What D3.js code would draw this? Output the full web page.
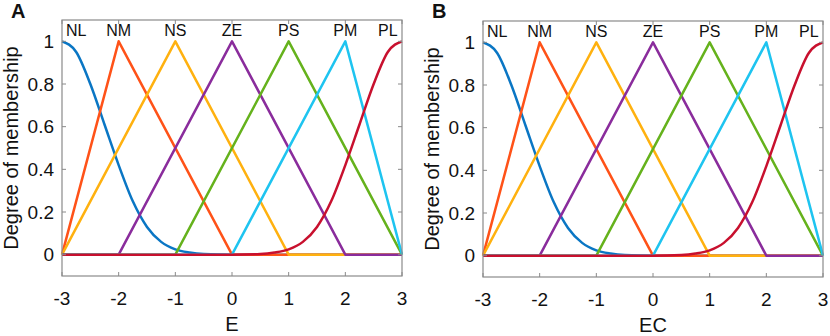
<!DOCTYPE html>
<html>
<head>
<meta charset="utf-8">
<script src="https://cdn.jsdelivr.net/npm/d3@7"></script>
<style>
  body { margin: 0; background: #fff; }
  svg text { font-family: "Liberation Sans", Arial, sans-serif; fill: #111; }
</style>
</head>
<body>
<div id="chart"></div>
<script>
// membership function names and where their names sit on the x axis
var mfNames = ["NL", "NM", "NS", "ZE", "PS", "PM", "PL"];
var mfLabelX = [-2.75, -2, -1, 0, 1, 2, 2.75];

var xTicks = [-3, -2, -1, 0, 1, 2, 3];
var yTicks = [0, 0.2, 0.4, 0.6, 0.8, 1];

// NL (z-shaped)
var nlX = [-3, -2.75, -2.5, -2.25, -2, -1.75, -1.5, -1.25, -1, -0.75, -0.5, 0, 3];
var nlY = [1, 0.95, 0.8, 0.61, 0.42, 0.25, 0.13, 0.06, 0.025, 0.01, 0.003, 0, 0];
// triangles
var nmX = [-3, -2, 0, 3];   var nmY = [0, 1, 0, 0];
var nsX = [-3, -1, 1, 3];   var nsY = [0, 1, 0, 0];
var zeX = [-3, -2, 0, 2, 3]; var zeY = [0, 0, 1, 0, 0];
var psX = [-3, -1, 1, 3];   var psY = [0, 0, 1, 0];
var pmX = [-3, 0, 2, 3];    var pmY = [0, 0, 1, 0];
// PL (s-shaped)
var plX = [-3, 0, 0.5, 0.75, 1, 1.25, 1.5, 1.75, 2, 2.25, 2.5, 2.75, 3];
var plY = [0, 0, 0.003, 0.01, 0.025, 0.06, 0.13, 0.25, 0.42, 0.61, 0.8, 0.95, 1];

var series = [
  {x: nlX, y: nlY, color: "#0a76c4", smooth: true},
  {x: nmX, y: nmY, color: "#ff5218"},
  {x: nsX, y: nsY, color: "#ffb10f"},
  {x: zeX, y: zeY, color: "#8a2c9c"},
  {x: psX, y: psY, color: "#65b21c"},
  {x: pmX, y: pmY, color: "#1ec4f0"},
  {x: plX, y: plY, color: "#c8102e", smooth: true}
];

var W = 830, H = 336;
var svg = d3.select("#chart").append("svg")
  .attr("width", W).attr("height", H);

function drawPanel(left, top, tag, xName) {
  var width = 340, height = 256;
  var g = svg.append("g").attr("transform", "translate(" + left + "," + top + ")");

  var x = d3.scaleLinear().domain([-3, 3]).range([0, width]);
  var y = d3.scaleLinear().domain([-0.1, 1.1]).range([height, 0]);

  // lines
  series.forEach(function (s) {
    var pts = s.x.map(function (v, i) { return [v, s.y[i]]; });
    var line = d3.line()
      .x(function (d) { return x(d[0]); })
      .y(function (d) { return y(d[1]); })
      .curve(s.smooth ? d3.curveMonotoneX : d3.curveLinear);
    g.append("path").datum(pts)
      .attr("d", line)
      .attr("fill", "none")
      .attr("stroke", s.color)
      .attr("stroke-width", 2.5)
      .attr("stroke-linejoin", "round");
  });

  // box with inward ticks on all sides (matlab style)
  var tk = 4;
  var axCol = "#8a8a8a";
  var ax = g.append("g");
  ax.append("rect").attr("x", 0).attr("y", 0).attr("width", width).attr("height", height)
    .attr("fill", "none").attr("stroke", axCol).attr("stroke-width", 1.2);
  xTicks.forEach(function (t) {
    ax.append("line").attr("x1", x(t)).attr("x2", x(t)).attr("y1", height).attr("y2", height - tk).attr("stroke", axCol);
    ax.append("line").attr("x1", x(t)).attr("x2", x(t)).attr("y1", 0).attr("y2", tk).attr("stroke", axCol);
    g.append("text").attr("x", x(t)).attr("y", height + 29)
      .attr("text-anchor", "middle").style("font-size", "19px").text(t);
  });
  yTicks.forEach(function (t) {
    ax.append("line").attr("x1", 0).attr("x2", tk).attr("y1", y(t)).attr("y2", y(t)).attr("stroke", axCol);
    ax.append("line").attr("x1", width).attr("x2", width - tk).attr("y1", y(t)).attr("y2", y(t)).attr("stroke", axCol);
    g.append("text").attr("x", -8).attr("y", y(t)).attr("dy", "0.35em")
      .attr("text-anchor", "end").style("font-size", "19px").text(t);
  });

  // mf names along the top
  mfNames.forEach(function (n, i) {
    g.append("text").attr("x", x(mfLabelX[i])).attr("y", 16)
      .attr("text-anchor", "middle").style("font-size", "16px").text(n);
  });

  // axis titles
  g.append("text").attr("x", width / 2).attr("y", height + 55)
    .attr("text-anchor", "middle").style("font-size", "20px").text(xName);
  g.append("text")
    .attr("transform", "translate(" + (-44) + "," + (height / 2) + ") rotate(-90)")
    .attr("text-anchor", "middle").style("font-size", "20px").text("Degree of membership");

  // panel letter
  svg.append("text").attr("x", left - 51).attr("y", 18)
    .style("font-size", "20px").style("font-weight", "bold").text(tag);
}

drawPanel(62, 20, "A", "E");
drawPanel(483, 21, "B", "EC");
</script>
</body>
</html>
